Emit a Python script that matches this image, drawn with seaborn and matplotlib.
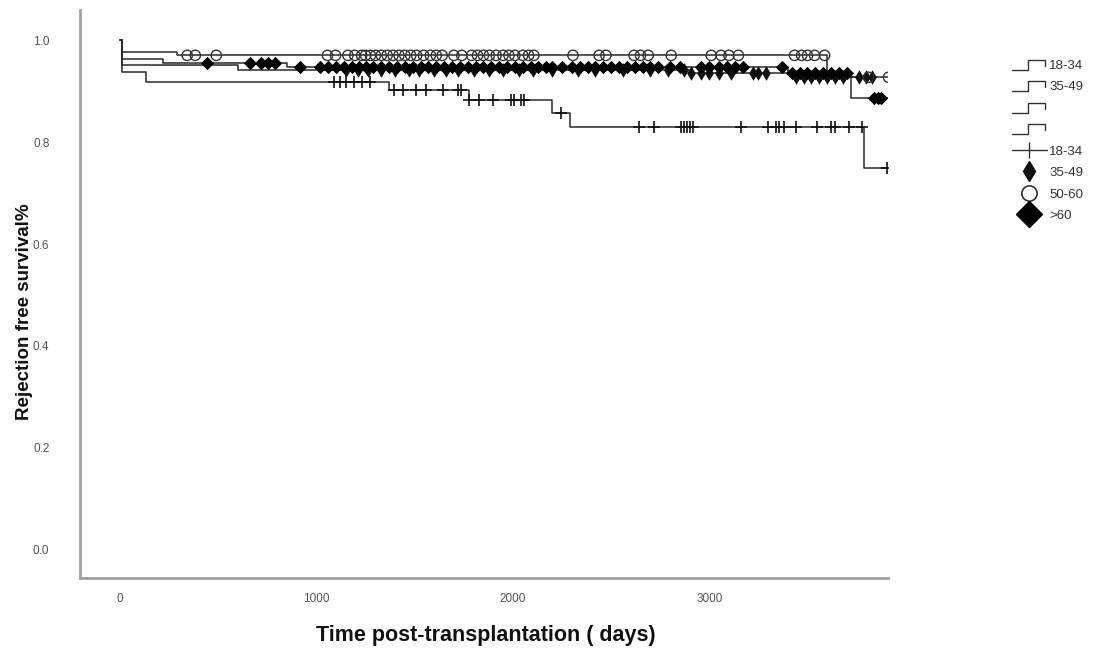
import numpy as np
import pandas as pd
import matplotlib
matplotlib.use("Agg")
import matplotlib.pyplot as plt
from matplotlib.lines import Line2D
from matplotlib.legend_handler import HandlerBase
import seaborn as sns

# Kaplan-Meier step functions per donor age group (time in days, survival fraction)
groups = ["18-34", "35-49", "50-60", ">60"]

t_18_34 = [0, 12, 130, 1370, 1775, 2200, 2290, 3790]
s_18_34 = [1.0, 0.937, 0.918, 0.902, 0.882, 0.857, 0.829, 0.749]
end_18_34 = 3905

t_35_49 = [0, 12, 600, 2900, 3420]
s_35_49 = [1.0, 0.951, 0.941, 0.936, 0.927]
end_35_49 = 3850

t_50_60 = [0, 12, 290, 3600]
s_50_60 = [1.0, 0.976, 0.970, 0.927]
end_50_60 = 3915

t_60 = [0, 12, 220, 850, 3400, 3720]
s_60 = [1.0, 0.962, 0.956, 0.948, 0.936, 0.886]
end_60 = 3920

# Censoring times (days) per group
cens_18_34 = [1090, 1120, 1150, 1190, 1230, 1275, 1393, 1439, 1505, 1556, 1643,
              1719, 1735, 1776, 1827, 1898, 1990, 2005, 2041, 2056, 2245, 2643,
              2719, 2857, 2870, 2885, 2900, 2918, 3163, 3301, 3342, 3357, 3378,
              3444, 3546, 3622, 3638, 3709, 3776, 3903]
cens_35_49 = [1150, 1210, 1260, 1330, 1400, 1470, 1520, 1600, 1660, 1720, 1800,
              1880, 1950, 2030, 2100, 2200, 2330, 2420, 2560, 2700, 2790, 2872,
              2908, 2960, 3000, 3050, 3110, 3224, 3250, 3290, 3440, 3480, 3520,
              3560, 3600, 3640, 3680, 3760, 3800, 3830]
cens_50_60 = [342, 383, 490, 1056, 1097, 1160, 1195, 1230, 1250, 1275, 1300, 1330,
              1360, 1390, 1420, 1450, 1480, 1510, 1545, 1580, 1610, 1640, 1700,
              1740, 1790, 1820, 1850, 1880, 1915, 1950, 1980, 2010, 2050, 2080,
              2107, 2306, 2439, 2474, 2617, 2650, 2689, 2806, 3010, 3060, 3100,
              3148, 3434, 3470, 3500, 3536, 3587, 3811, 3913]
cens_60 = [444, 663, 720, 755, 791, 918, 1020, 1060, 1100, 1140, 1180, 1215, 1250,
           1290, 1330, 1370, 1410, 1450, 1490, 1530, 1570, 1610, 1650, 1690, 1730,
           1770, 1810, 1850, 1890, 1930, 1970, 2010, 2050, 2090, 2130, 2170, 2200,
           2250, 2300, 2340, 2380, 2420, 2460, 2500, 2540, 2580, 2620, 2660, 2700,
           2740, 2800, 2850, 2960, 3000, 3050, 3090, 3130, 3170, 3370, 3420, 3460,
           3500, 3540, 3580, 3620, 3660, 3700, 3840, 3860, 3875]

curves = {
    "18-34": (t_18_34, s_18_34, end_18_34, cens_18_34),
    "35-49": (t_35_49, s_35_49, end_35_49, cens_35_49),
    "50-60": (t_50_60, s_50_60, end_50_60, cens_50_60),
    ">60": (t_60, s_60, end_60, cens_60),
}

marker_style = {
    "18-34": dict(marker="+", s=80, linewidth=1.2, color="#111111"),
    "35-49": dict(marker="d", s=55, linewidth=0, color="#111111"),
    "50-60": dict(marker="o", s=55, linewidth=1.0, facecolors="none", edgecolors="#333333"),
    ">60": dict(marker="D", s=46, linewidth=0, color="#000000"),
}

sns.set_style("white")
plt.rcParams["font.family"] = ["Liberation Sans", "DejaVu Sans"]

fig = plt.figure(figsize=(10.97, 6.53), dpi=100)
ax = fig.add_axes([0.0729, 0.1149, 0.7366, 0.8698])

line_color = "#2a2a2a"
for g in groups:
    t, s, end, cens = curves[g]
    df = pd.DataFrame({"time": list(t) + [end], "surv": list(s) + [s[-1]]})
    sns.lineplot(data=df, x="time", y="surv", drawstyle="steps-post",
                 estimator=None, sort=False, color=line_color, linewidth=1.1, ax=ax)

for g in groups:
    t, s, end, cens = curves[g]
    idx = np.searchsorted(np.asarray(t), np.asarray(cens), side="right") - 1
    yv = np.asarray(s)[idx]
    cdf = pd.DataFrame({"time": cens, "surv": yv})
    sns.scatterplot(data=cdf, x="time", y="surv", ax=ax, zorder=3,
                    clip_on=True, legend=False, **marker_style[g])

ax.set_xlim(-204, 3910)
ax.set_ylim(-0.055, 1.059)
ax.set_xticks([0, 1000, 2000, 3000])
ax.set_yticks([0.0, 0.2, 0.4, 0.6, 0.8, 1.0])
ax.set_yticklabels(["0.0", "0.2", "0.4", "0.6", "0.8", "1.0"])
ax.tick_params(axis="both", length=0, labelsize=8.5, colors="#555555")
ax.tick_params(axis="y", pad=22)
ax.tick_params(axis="x", pad=11)

for side in ["top", "right"]:
    ax.spines[side].set_visible(False)
for side in ["left", "bottom"]:
    ax.spines[side].set_color("#a0a0a0")
    ax.spines[side].set_linewidth(2.0)

ax.set_xlabel("Time post-transplantation ( days)", fontsize=15.5, fontweight="bold",
              color="#111111")
ax.set_ylabel("Rejection free survival%", fontsize=13.5, fontweight="bold",
              color="#111111")
ax.xaxis.set_label_coords(0.502, -0.083)
ax.yaxis.set_label_coords(-0.058, 0.468)


class StepHandle:
    pass


class StepHandler(HandlerBase):
    def create_artists(self, legend, orig_handle, xdescent, ydescent, width,
                       height, fontsize, trans):
        x0, y0 = -xdescent, -ydescent
        xs = [x0, x0 + 0.45 * width, x0 + 0.45 * width, x0 + 0.95 * width, x0 + 0.95 * width]
        ys = [y0 + 0.0 * height, y0 + 0.0 * height, y0 + 0.9 * height,
              y0 + 0.9 * height, y0 + 0.35 * height]
        return [Line2D(xs, ys, color="#333333", lw=1.0, transform=trans)]


handles = [StepHandle(), StepHandle(), StepHandle(), StepHandle(),
           Line2D([], [], color="#333333", lw=1.0, marker="|", markersize=12),
           Line2D([], [], color="#111111", lw=0, marker="d", markersize=10),
           Line2D([], [], color="#333333", lw=0, marker="o", markersize=11,
                  markerfacecolor="none", markeredgewidth=1.2),
           Line2D([], [], color="#000000", lw=0, marker="D", markersize=13)]
labels = ["18-34", "35-49", "", "", "18-34", "35-49", "50-60", ">60"]

fig.legend(handles, labels, handler_map={StepHandle: StepHandler()},
           loc="upper left", bbox_to_anchor=(0.912, 0.928), frameon=False,
           fontsize=9.5, labelspacing=0.64, handlelength=2.6, handleheight=0.9,
           handletextpad=0.2, labelcolor="#333333")

fig.savefig("out.png", dpi=100, facecolor="white")
